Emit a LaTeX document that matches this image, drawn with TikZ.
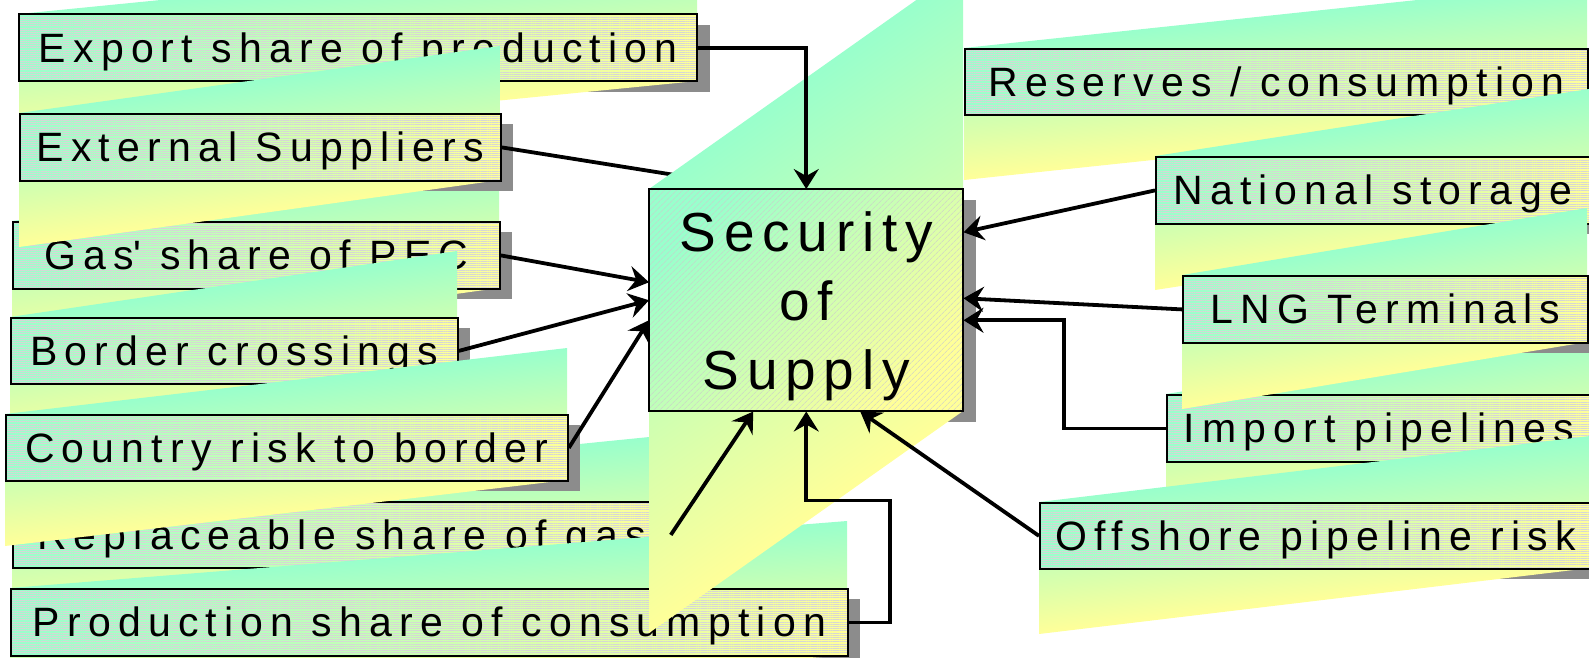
\documentclass[tikz,border=0pt]{standalone}
\usepackage{fontspec}
\usetikzlibrary{arrows.meta}
\usetikzlibrary{patterns.meta}
\newfontfamily\boxfont[LetterSpace=17.5]{Liberation Sans}
\newfontfamily\goalfont[LetterSpace=14]{Liberation Sans}
\definecolor{mint}{RGB}{153,255,204}
\definecolor{lemon}{RGB}{255,255,153}
\definecolor{dropgray}{RGB}{140,140,140}
\tikzset{
    flow/.style = {line width=3.8pt, -{Stealth[length=20pt, width=25pt, inset=7pt]}},
    plain/.style = {line width=3.8pt},
    factor/.style = {draw=black, line width=1.8pt, anchor=north west, align=center, inner sep=0pt,
        font=\boxfont\fontsize{41}{49}\selectfont, text height=29pt, text depth=0pt,
        preaction={left color=mint, right color=lemon},
        pattern={Lines[angle=0, distance=2.2pt, line width=.5pt]}, pattern color=black!16},
    goal/.style = {factor, font=\goalfont\fontsize{55}{69}\selectfont, text height=178pt,
        preaction={top color=mint, bottom color=lemon, shading angle=45},
        pattern={Lines[angle=45, distance=4pt, line width=.5pt]}, pattern color=black!20},
    glitch/.style = {top color=mint, bottom color=lemon}
}
% shadow, smeared gradient, then the box itself: name, L, T, R, B, style, text
\newcommand\panel[7]{%
    \fill[dropgray] (#2+13,#3+11) rectangle (#4+13,#5+11);
    \pgfmathsetmacro\gh{#5-#3}
    \pgfmathsetmacro\gs{\gh/(#4-#2)}
    \path[glitch, transform canvas={yslant=\gs}] (#2,{#3+\gs*#2}) rectangle (#4,{#3+2*\gh+\gs*#2});
    \node[#6, minimum width={(#4-#2)*1pt}, minimum height={\gh*1pt}] (#1) at (#2,#3) {#7};
}

\begin{document}
\begin{tikzpicture}[x=1pt, y=-1pt]
    \useasboundingbox (0,0) rectangle (1589,657);
    \fill[white] (0,0) rectangle (1589,657);
    \clip (0,0) rectangle (1589,657);
    % left column
    \panel{export}{19}{14}{697}{81}{factor}{Export share of production}
    \panel{gas}{12}{221}{499}{288}{factor}{Gas\textquotesingle{} share of PEC}
    \panel{external}{19}{113}{500}{180}{factor}{External Suppliers}
    \panel{border}{10}{317}{457}{383}{factor}{Border crossings}
    \panel{replace}{12}{501}{669}{567}{factor}{Replaceable share of gas}
    \panel{country}{5}{414}{567}{480}{factor}{Country risk to border}
    \panel{production}{10}{588}{847}{655}{factor}{Production share of consumption}
    % right column
    \panel{reserves}{964}{48}{1587}{114}{factor}{Reserves / consumption}
    \panel{national}{1155}{156}{1589}{223}{factor}{National storage}
    \panel{import}{1166}{394}{1590}{461}{factor}{Import pipelines}
    \panel{lng}{1182}{275}{1587}{342}{factor}{LNG Terminals}
    \panel{offshore}{1039}{502}{1590}{568}{factor}{Offshore pipeline risk}
    \coordinate (hidden) at (700,179);
    \draw[plain] (external.east) -- (hidden);
    \panel{security}{649}{189}{963}{411}{goal}{Security\\of\\Supply}
    % arrows into the centre
    \draw[flow] (export.east) -| (security.north);
    \draw[flow] (gas.east) -- ([yshift=18pt]security.west);
    \draw[flow] (border.east) -- (security.west);
    \draw[flow] (country.east) -- ([yshift=-20pt]security.west);
    \draw[flow] (replace.east) -- ([xshift=-53pt]security.south);
    \draw[flow] (production.east) -- ++(41,0) -- ++(0,-122) -| (security.south);
    \draw[flow] (national.west) -- ([yshift=68pt]security.east);
    \draw[flow] (lng.west) -- ([yshift=2pt]security.east);
    \draw[flow] (import.west) -- ++(-102,0) |- ([yshift=-20pt]security.east);
    \draw[flow] (offshore.west) -- ([xshift=54pt]security.south);
\end{tikzpicture}
\end{document}
